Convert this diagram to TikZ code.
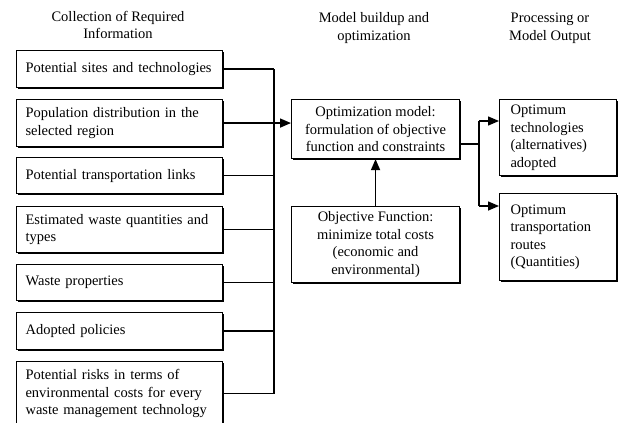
\documentclass[tikz,border=0pt]{standalone}
\usepackage{fontspec}
\setmainfont{Liberation Serif}
\usetikzlibrary{arrows.meta,shadows}
\begin{document}
\begin{tikzpicture}[x=1pt,y=-1pt,
  every node/.style={font=\fontsize{14.5}{17.5}\selectfont},
  boxbase/.style={draw, line width=1.1pt, fill=white,
    drop shadow={shadow xshift=1.2pt, shadow yshift=-1.2pt, fill=black, opacity=1},
    inner ysep=0pt, anchor=north west},
  lbox/.style={boxbase, text width=188pt, align=left, inner xsep=9pt},
  cbox/.style={boxbase, align=center, inner xsep=4pt},
  obox/.style={boxbase, text width=95pt, align=left, inner xsep=11pt},
  head/.style={align=center, inner sep=0pt},
  conn/.style={line width=1.5pt},
  arr/.style={conn, -{Triangle[length=11pt,width=9pt]}}]
\useasboundingbox (0,0) rectangle (622,423);
% headers
\node[head] (h1) at (118,25) {Collection of Required\\Information};
\node[head] (h2) at (374,28) {Model buildup and\\optimization};
\node[head] (h3) at (550,28) {Processing or\\Model Output};
% left boxes
\node[lbox, minimum height=37pt] (b1) at (16,50) {Potential sites and technologies};
\node[lbox, minimum height=47pt] (b2) at (16,99) {Population distribution in the\\selected region};
\node[lbox, minimum height=36pt] (b3) at (16,157) {Potential transportation links};
\node[lbox, minimum height=46pt] (b4) at (16,206) {Estimated waste quantities and\\types};
\node[lbox, minimum height=36pt] (b5) at (16,264) {Waste properties};
\node[lbox, minimum height=37pt] (b6) at (16,312) {Adopted policies};
\node[lbox, minimum height=64pt] (b7) at (16,361) {Potential risks in terms of\\environmental costs for every\\waste management technology};
% middle boxes
\node[cbox, minimum width=168pt, minimum height=59pt] (opt) at (291,99) {Optimization model:\\formulation of objective\\function and constraints};
\node[cbox, minimum width=168pt, minimum height=76pt] (obj) at (291,206) {Objective Function:\\minimize total costs\\(economic and\\environmental)};
% output boxes
\node[obox, minimum width=117pt, minimum height=76pt] (out1) at (499,99) {Optimum\\technologies\\(alternatives)\\adopted};
\node[obox, minimum width=117pt, minimum height=87pt] (out2) at (499,193) {Optimum\\transportation\\routes\\(Quantities)};
% connectors
\coordinate (busx) at (274,0);
\foreach \b in {b1,b3,b4,b5,b6,b7} \draw[conn] (\b.east) -- (\b.east -| busx);
\draw[conn] (b1.east -| busx) -- (b7.east -| busx);
\draw[arr] (b2.east) -- (b2.east -| opt.west);
\draw[arr] (obj.north) -- (obj.north |- opt.south);
\coordinate (oo) at ([yshift=15pt]opt.south east);
\coordinate (brx) at (479,0);
\coordinate (t1) at ([yshift=-22pt]out1.north west);
\coordinate (t2) at ([yshift=-13pt]out2.north west);
\draw[conn] (oo) -- (oo -| brx);
\draw[conn] (t1 -| brx) -- (t2 -| brx);
\draw[arr] (t1 -| brx) -- (t1);
\draw[arr] (t2 -| brx) -- (t2);
\end{tikzpicture}
\end{document}
